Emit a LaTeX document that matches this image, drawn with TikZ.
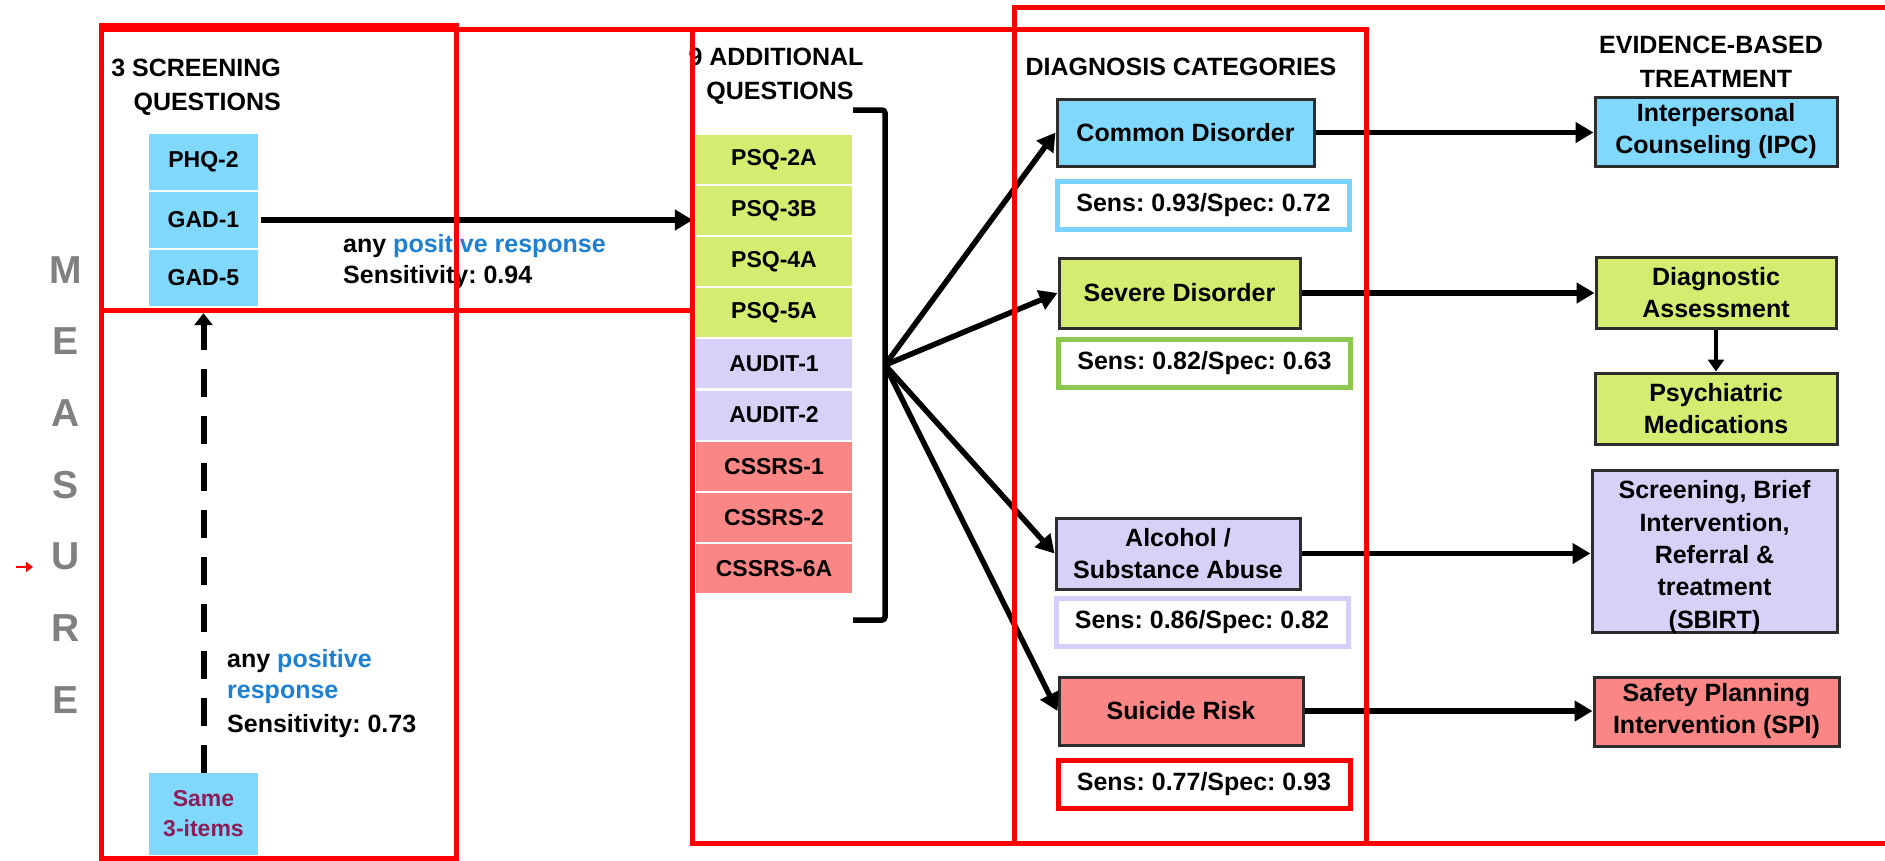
\documentclass[tikz,border=0pt]{standalone}
\usepackage{fontspec}
\setmainfont{Liberation Sans}
\usetikzlibrary{arrows.meta}
\frenchspacing

\definecolor{cellblue}{RGB}{128,216,252}
\definecolor{cellgreen}{RGB}{212,236,112}
\definecolor{celllav}{RGB}{216,208,246}
\definecolor{cellred}{RGB}{250,134,134}
\definecolor{posblue}{RGB}{30,128,210}
\definecolor{samecol}{RGB}{140,30,90}
\definecolor{measuregray}{RGB}{128,128,128}
\definecolor{sensgreen}{RGB}{140,200,80}
\definecolor{sensblue}{RGB}{120,212,250}
\definecolor{senslav}{RGB}{214,206,250}
\definecolor{boxedge}{RGB}{45,45,45}

\begin{document}
\begin{tikzpicture}[x=1pt,y=-1pt,
  lbl/.style={font=\bfseries\fontsize{25}{32}\selectfont, inner sep=0pt},
  qcell/.style={font=\bfseries\fontsize{23}{30}\selectfont, inner sep=0pt,
    align=center},
  tbox/.style={draw=boxedge, line width=3, inner sep=0pt, align=center,
    font=\bfseries\fontsize{25}{32}\selectfont},
  sensbox/.style={line width=5, fill=white, inner sep=0pt,
    minimum width=292, minimum height=48,
    font=\bfseries\fontsize{25}{32}\selectfont},
  measure/.style={font=\bfseries\fontsize{39}{39}\selectfont,
    text=measuregray, inner sep=0pt, anchor=base},
  arr/.style={line width=5.5, -{Triangle[length=18,width=20]}},
  frame/.style={draw=red, line width=5}
]
\useasboundingbox (0,0) rectangle (1885,860);
\fill[white] (0,0) rectangle (1885,860);

% vertical MEASURE lettering and its small marker
\foreach \l [count=\i from 0] in {M,E,A,S,U,R,E}
  \node[measure] (m\i) at (66,{283+71.7*\i}) {\l};
\coordinate (mkA) at (16,567);
\coordinate (mkB) at (33,567);
\draw[red, line width=2.5, -{Triangle[length=7,width=10]}] (mkA) -- (mkB);

% three screening questions
\node[qcell, fill=cellblue, minimum width=109, minimum height=56] (phq) at (203.5,162) {PHQ-2};
\node[qcell, fill=cellblue, minimum width=109, minimum height=56] (gad1) at (203.5,220) {GAD-1};
\node[qcell, fill=cellblue, minimum width=109, minimum height=56] (gad5) at (203.5,278) {GAD-5};
\node[qcell, fill=cellblue, minimum width=109, minimum height=82, text=samecol] (same) at (203.5,814) {Same\\3-items};

% nine additional questions
\foreach \t/\c [count=\i] in {PSQ-2A/cellgreen, PSQ-3B/cellgreen, PSQ-4A/cellgreen,
    PSQ-5A/cellgreen, AUDIT-1/celllav, AUDIT-2/celllav, CSSRS-1/cellred,
    CSSRS-2/cellred, CSSRS-6A/cellred}
  \node[qcell, fill=\c, minimum width=156, minimum height=49] (q\i) at (774,{159.5+51.1*(\i-1)}) {\t};

% bracket around the nine questions
\coordinate (brA) at (853,110);
\coordinate (brB) at (885,110);
\coordinate (brC) at (885,620);
\coordinate (brD) at (853,620);
\draw[line width=5.5, rounded corners=3] (brA) -- (brB) -- (brC) -- (brD);
\coordinate (fan) at (885,365);

% headers
\node[lbl, anchor=base east] (h1a) at (281,76) {3 SCREENING};
\node[lbl, anchor=base east] (h1b) at (281,110) {QUESTIONS};
\node[lbl, anchor=base] (h2a) at (776,65) {9 ADDITIONAL};
\node[lbl, anchor=base] (h2b) at (780,99) {QUESTIONS};
\node[lbl, anchor=base] (h3) at (1181,75) {DIAGNOSIS CATEGORIES};
\node[lbl, anchor=base] (h4a) at (1711,53) {EVIDENCE-BASED};
\node[lbl, anchor=base] (h4b) at (1716,87) {TREATMENT};

% diagnosis categories
\node[tbox, fill=cellblue, minimum width=257, minimum height=67] (common) at (1185.5,132.5) {Common Disorder};
\node[tbox, fill=cellgreen, minimum width=241, minimum height=70] (severe) at (1179.5,293) {Severe Disorder};
\node[tbox, fill=celllav, minimum width=244, minimum height=71] (alcohol) at (1178,553.5) {Alcohol /\\Substance Abuse};
\node[tbox, fill=cellred, minimum width=244, minimum height=68] (suicide) at (1181,711) {Suicide Risk};

% sensitivity / specificity
\node[sensbox, draw=sensblue] (s1) at (1203.5,205.5) {Sens: 0.93/Spec: 0.72};
\node[sensbox, draw=sensgreen] (s2) at (1204.5,363) {Sens: 0.82/Spec: 0.63};
\node[sensbox, draw=senslav] (s3) at (1202,622) {Sens: 0.86/Spec: 0.82};
\node[sensbox, draw=red] (s4) at (1204,784) {Sens: 0.77/Spec: 0.93};

% evidence-based treatment
\node[tbox, fill=cellblue, minimum width=242, minimum height=69] (ipc) at (1716,131.5) {Interpersonal\\Counseling (IPC)};
\node[tbox, fill=cellgreen, minimum width=240, minimum height=71] (diag) at (1716,292.5) {Diagnostic\\Assessment};
\node[tbox, fill=cellgreen, minimum width=242, minimum height=71] (psych) at (1716,408.5) {Psychiatric\\Medications};
\node[tbox, fill=celllav, minimum width=245, minimum height=162] (sbirt) at (1714.5,551) {};
\node[lbl, align=center, font=\bfseries\fontsize{25}{32.3}\selectfont] (sbirttxt) at (1714.5,557) {Screening, Brief\\Intervention,\\Referral \&\\treatment\\(SBIRT)};
\node[tbox, fill=cellred, minimum width=245, minimum height=69] (spi) at (1716.5,711.5) {Safety Planning\\Intervention (SPI)};

% connectors
\draw[arr, shorten <=3, shorten >=3] (gad1.east) -- (gad1.east -| q2.west);
\draw[line width=6, dash pattern=on 28 off 19, -{Triangle[length=12,width=18]}, shorten >=7] (same.north) -- (gad5.south);
\draw[arr] (fan) -- (common.west);
\draw[arr] (fan) -- (severe.west);
\draw[arr] (fan) -- (alcohol.west);
\draw[arr] (fan) -- (suicide.west);
\draw[arr] (common.east) -- (common.east -| ipc.west);
\draw[arr] (severe.east) -- (severe.east -| diag.west);
\draw[arr] (alcohol.east) -- (alcohol.east -| sbirt.west);
\draw[arr] (suicide.east) -- (suicide.east -| spi.west);
\draw[line width=4.5, -{Triangle[length=12,width=16]}] (diag.south) -- (psych.north);

% connector labels
\node[lbl, anchor=base west] (la1) at (343,252) {any \textcolor{posblue}{positive response}};
\node[lbl, anchor=base west] (la2) at (343,283) {Sensitivity: 0.94};
\node[lbl, anchor=base west] (lb1) at (227,667) {any \textcolor{posblue}{positive}};
\node[lbl, anchor=base west] (lb2) at (227,698) {\textcolor{posblue}{response}};
\node[lbl, anchor=base west] (lb3) at (227,732) {Sensitivity: 0.73};

% red grouping frames
\draw[frame] (101,25.5) rectangle (456,858);
\draw[frame] (101,29.5) rectangle (692.5,310.5);
\draw[frame] (692.5,29.5) rectangle (1366,843);
\draw[frame] (1014,7) rectangle (1895,843);
\end{tikzpicture}
\end{document}
